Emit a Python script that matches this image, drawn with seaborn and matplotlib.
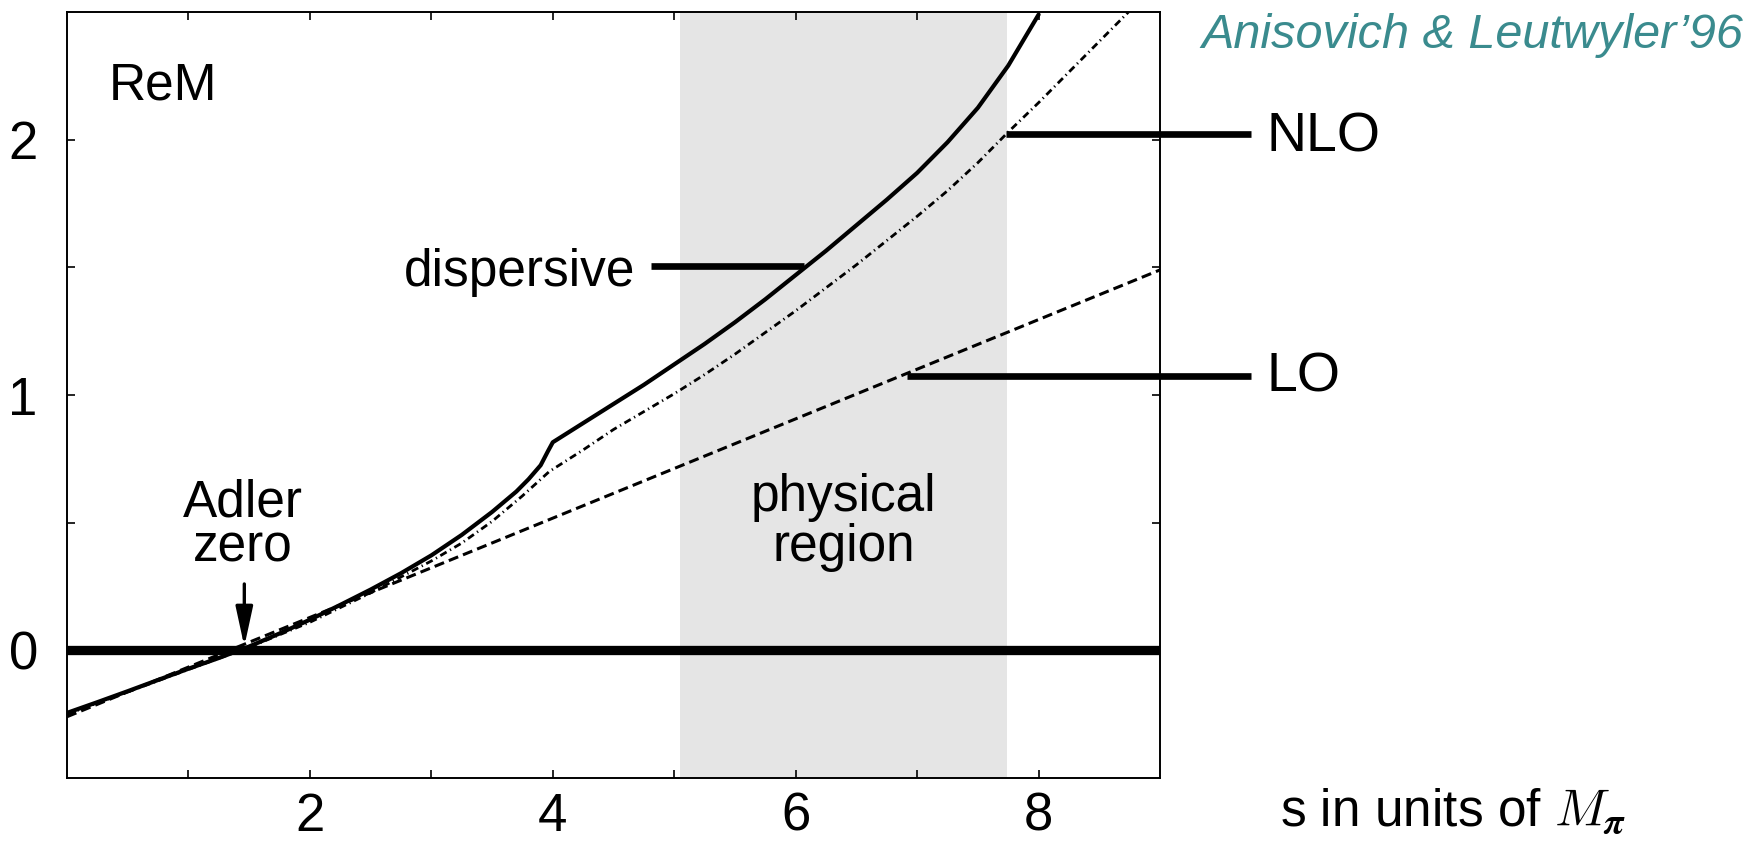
import numpy as np
import pandas as pd
import matplotlib
matplotlib.use("Agg")
import matplotlib.pyplot as plt
import seaborn as sns

# Real part of the eta -> 3 pi amplitude along s (in units of M_pi^2)
s_disp = [0.0, 0.25, 0.5, 0.75, 1.0, 1.25, 1.5, 1.75, 2.0, 2.25, 2.5, 2.75, 3.0,
          3.25, 3.5, 3.7, 3.8, 3.9, 3.96, 4.0,
          4.25, 4.5, 4.75, 5.0, 5.25, 5.5, 5.75, 6.0, 6.25, 6.5, 6.75, 7.0,
          7.25, 7.5, 7.75, 8.0]
rem_disp = [-0.245, -0.203, -0.16, -0.116, -0.072, -0.03, 0.015, 0.066, 0.12, 0.178, 0.238, 0.302, 0.372,
            0.452, 0.542, 0.622, 0.67, 0.725, 0.78, 0.815,
            0.89, 0.965, 1.04, 1.12, 1.20, 1.285, 1.375, 1.47, 1.565, 1.665, 1.765, 1.87,
            1.99, 2.125, 2.29, 2.49]

s_nlo = [0.0, 0.5, 1.0, 1.5, 2.0, 2.5, 3.0, 3.25, 3.5, 3.75, 3.97,
         4.25, 4.5, 4.75, 5.0, 5.25, 5.5, 5.75, 6.0, 6.25, 6.5, 6.75, 7.0,
         7.25, 7.5, 7.75, 8.0, 8.25, 8.5, 8.74]
rem_nlo = [-0.25, -0.163, -0.075, 0.012, 0.11, 0.225, 0.35, 0.42, 0.505, 0.605, 0.70,
           0.785, 0.865, 0.935, 1.005, 1.08, 1.16, 1.245, 1.33, 1.42, 1.51, 1.605, 1.70,
           1.80, 1.91, 2.03, 2.145, 2.265, 2.385, 2.50]

s_lo = [0.0, 9.0]
rem_lo = [-0.26, 1.49]

physical_region = [5.05, 7.74]
adler_zero = 1.46

x_ticks = [2, 4, 6, 8]
x_minor = [1, 3, 5, 7]
y_ticks = [0, 1, 2]
y_minor = [0.5, 1.5]

sns.set_theme(style="ticks")
plt.rcParams["font.family"] = ["Liberation Sans", "DejaVu Sans"]
plt.rcParams["mathtext.fontset"] = "cm"
plt.rcParams.update({"text.color": "black", "axes.labelcolor": "black",
                     "xtick.color": "black", "ytick.color": "black",
                     "axes.edgecolor": "black"})

fig = plt.figure(figsize=(17.63, 8.41), dpi=100)
ax = fig.add_axes([0.038, 0.0749, 0.62, 0.9108])

ax.axvspan(*physical_region, color="#e5e5e5", lw=0, zorder=0)
ax.axhline(0, color="black", lw=6.7, zorder=2)

disp = pd.DataFrame({"s": s_disp, "ReM": rem_disp})
nlo = pd.DataFrame({"s": s_nlo, "ReM": rem_nlo})
lo = pd.DataFrame({"s": s_lo, "ReM": rem_lo})

sns.lineplot(data=lo, x="s", y="ReM", ax=ax, color="black", lw=2.2,
             linestyle=(0, (3.3, 1.7)), dash_capstyle="butt", zorder=3)
sns.lineplot(data=nlo, x="s", y="ReM", ax=ax, color="black", lw=2.0,
             linestyle=(0, (2.6, 1.4, 0.45, 1.4)), dash_capstyle="butt", zorder=3)
sns.lineplot(data=disp, x="s", y="ReM", ax=ax, color="black", lw=3.0, zorder=4)

ax.set_xlim(0, 9)
ax.set_ylim(-0.5, 2.5)
ax.set_xlabel("")
ax.set_ylabel("")

ax.set_xticks(x_ticks)
ax.set_xticklabels([str(t) for t in x_ticks])
ax.set_xticks(x_minor, minor=True)
ax.set_yticks(y_ticks)
ax.set_yticklabels([str(t) for t in y_ticks])
ax.set_yticks(y_minor, minor=True)
ax.tick_params(axis="both", which="both", direction="in", length=6, width=1.2,
               top=True, right=True, colors="black", labelcolor="black")
ax.tick_params(axis="x", which="major", labelsize=38, pad=10)
ax.tick_params(axis="y", which="major", labelsize=38, pad=21)
for sp in ax.spines.values():
    sp.set_linewidth(1.4)
    sp.set_color("black")

fs = 37
ax.text(0.79, 2.21, "ReM", fontsize=fs, ha="center", va="center")
ax.text(4.68, 1.48, "dispersive", fontsize=fs, ha="right", va="center")
ax.plot([4.81, 6.07], [1.506, 1.506], color="black", lw=4.8,
        solid_capstyle="butt", zorder=5)

ax.plot([7.73, 9.75], [2.024, 2.024], color="black", lw=4.8,
        solid_capstyle="butt", clip_on=False, zorder=5)
ax.text(9.88, 2.01, "NLO", fontsize=fs + 3, ha="left", va="center", clip_on=False)
ax.plot([6.92, 9.75], [1.075, 1.075], color="black", lw=4.8,
        solid_capstyle="butt", clip_on=False, zorder=5)
ax.text(9.88, 1.07, "LO", fontsize=fs + 3, ha="left", va="center", clip_on=False)

ax.text(1.45, 0.525, "Adler", fontsize=fs, ha="center", va="baseline")
ax.text(1.45, 0.349, "zero", fontsize=fs, ha="center", va="baseline")
ax.annotate("", xy=(adler_zero, 0.015), xytext=(adler_zero, 0.26),
            arrowprops=dict(arrowstyle="-|>,head_length=0.6,head_width=0.13",
                            lw=2.4, color="black", mutation_scale=40,
                            shrinkA=0, shrinkB=0), zorder=6)

mid = sum(physical_region) / 2
ax.text(mid, 0.545, "physical", fontsize=fs, ha="center", va="baseline")
ax.text(mid, 0.349, "region", fontsize=fs, ha="center", va="baseline")

ax.text(9.99, -0.69, r"s in units of $M_{\boldsymbol{\pi}}$", fontsize=fs, ha="left",
        va="baseline", clip_on=False)

fig.text(0.9887, 1 - 48 / 841, "Anisovich & Leutwyler\u201996", fontsize=35,
         style="italic", color="#3a8b8e", ha="right", va="baseline")

fig.savefig("out.png", dpi=100)
